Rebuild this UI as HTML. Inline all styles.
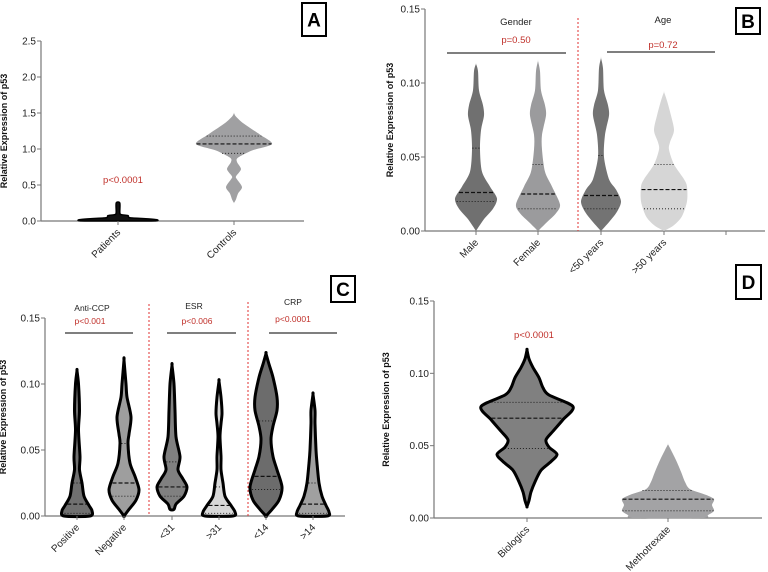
<!DOCTYPE html>
<html><head><meta charset="utf-8"><style>
html,body{margin:0;padding:0;background:#fff;}
svg{display:block;font-family:"Liberation Sans",Arial,sans-serif;}
</style></head><body>
<svg id="fig" width="768" height="572" viewBox="0 0 768 572" xmlns="http://www.w3.org/2000/svg"></svg>
<script>
// ---------- DATA ----------
// Panel A
const catsA = ["Patients","Controls"];
const ticksA = [0,0.5,1.0,1.5,2.0,2.5];
const tickLabelsA = ["0.0","0.5","1.0","1.5","2.0","2.5"];
const profPatients = [[0.25,1.8],[0.12,1.8],[0.09,3],[0.075,10],[0.045,12],[0.03,30],[0.018,39],[0.004,39],[0,30]];
const profControls = [[1.5,0],[1.45,2],[1.35,10],[1.2,26],[1.07,38],[0.98,18],[0.88,4],[0.82,3],[0.72,7],[0.62,2],[0.58,3],[0.47,8],[0.38,4],[0.3,2],[0.25,0]];
const quartA = [[0.005,0.015,0.05],[0.94,1.07,1.18]];
// Panel B
const catsB = ["Male","Female","<50 years",">50 years"];
const ticksB = [0,0.05,0.10,0.15];
const tickLabelsB = ["0.00","0.05","0.10","0.15"];
const profB = [
 [[0.113,0],[0.108,2],[0.095,3],[0.085,7],[0.078,8],[0.068,5],[0.055,4],[0.04,6],[0.03,14],[0.022,21],[0.015,17],[0.008,8],[0,0]],
 [[0.115,0],[0.108,2],[0.095,3],[0.085,7],[0.078,8],[0.065,4],[0.055,4],[0.04,7],[0.03,14],[0.018,22],[0.012,18],[0.006,9],[0,0]],
 [[0.117,0],[0.11,2],[0.095,3],[0.085,7],[0.078,8],[0.065,4],[0.05,3],[0.035,8],[0.028,15],[0.02,20],[0.013,16],[0.006,8],[0,0]],
 [[0.094,0],[0.088,3],[0.078,7],[0.068,10],[0.06,6],[0.055,5],[0.045,10],[0.035,20],[0.03,23],[0.02,23],[0.01,18],[0.004,10],[0,0]]
];
const quartB = [[0.02,0.026,0.056],[0.015,0.025,0.045],[0.015,0.024,0.051],[0.015,0.028,0.045]];
// Panel C
const catsC = ["Positive","Negative","<31",">31","<14",">14"];
const ticksC = [0,0.05,0.10,0.15];
const tickLabelsC = ["0.00","0.05","0.10","0.15"];
const profC = [
 [[0.11,0],[0.1,1.5],[0.08,2.5],[0.065,1.5],[0.045,3],[0.035,2.5],[0.025,5],[0.015,7],[0.008,12],[0.004,15],[0,13]],
 [[0.118,0],[0.1,2],[0.09,3],[0.075,7],[0.062,5],[0.055,4],[0.04,6],[0.03,11],[0.02,15],[0.012,12],[0.005,5],[0,0]],
 [[0.114,0],[0.1,2],[0.08,3],[0.06,4],[0.045,8],[0.035,6],[0.028,11],[0.022,15],[0.015,12],[0.009,4],[0.005,2]],
 [[0.102,0],[0.09,2],[0.078,3],[0.07,2],[0.06,1],[0.045,2],[0.035,2],[0.025,4],[0.015,6],[0.008,12],[0.003,16],[0,14]],
 [[0.123,0],[0.115,3],[0.105,7],[0.09,11],[0.08,11],[0.068,7],[0.058,5],[0.045,7],[0.035,11],[0.022,16],[0.012,13],[0.005,6],[0,0]],
 [[0.092,0],[0.08,2],[0.07,2],[0.05,3],[0.04,4],[0.025,6],[0.015,9],[0.008,13],[0.003,16],[0,14]]
];
const quartC = [[0.002,0.009,0.025],[0.015,0.025,0.055],[0.015,0.022,0.041],[0.002,0.008,0.022],[0.02,0.03,0.072],[0.002,0.009,0.025]];
// Panel D
const catsD = ["Biologics","Methotrexate"];
const ticksD = [0,0.05,0.10,0.15];
const tickLabelsD = ["0.00","0.05","0.10","0.15"];
const profD = [
 [[0.116,0],[0.11,2],[0.104,6],[0.097,12],[0.09,16],[0.085,22],[0.077,46],[0.068,36],[0.06,26],[0.054,19],[0.049,22],[0.044,30],[0.039,24],[0.033,14],[0.025,8],[0.018,4],[0.012,2],[0.008,0]],
 [[0.051,0],[0.047,3],[0.04,8],[0.032,13],[0.025,17],[0.02,22],[0.016,38],[0.013,46],[0.009,44],[0.005,46],[0.002,40],[0,34]]
];
const quartD = [[0.048,0.069,0.08],[0.005,0.013,0.019]];

// ---------- HELPERS ----------
const NS="http://www.w3.org/2000/svg";
const fig=document.getElementById('fig');
function mk(tag,attrs,parent,txt){const e=document.createElementNS(NS,tag);for(const k in attrs)e.setAttribute(k,attrs[k]);if(txt!==undefined)e.textContent=txt;(parent||fig).appendChild(e);return e;}
function linScale(d0,d1,r0,r1){return v=>r0+(v-d0)/(d1-d0)*(r1-r0);}
function widthAt(prof,v){
  const p=prof.slice().sort((a,b)=>b[0]-a[0]);
  if(v>=p[0][0])return p[0][1]; if(v<=p[p.length-1][0])return p[p.length-1][1];
  for(let i=0;i<p.length-1;i++){if(v<=p[i][0]&&v>=p[i+1][0]){const t=(p[i][0]-v)/(p[i][0]-p[i+1][0]);return p[i][1]+t*(p[i+1][1]-p[i][1]);}}
  return 0;
}
function smoothPath(pts){
  const n=pts.length;let d=`M${pts[0][0].toFixed(2)},${pts[0][1].toFixed(2)}`;
  const k=7;
  for(let i=0;i<n;i++){
    const p0=pts[(i-1+n)%n],p1=pts[i],p2=pts[(i+1)%n],p3=pts[(i+2)%n];
    const c1=[p1[0]+(p2[0]-p0[0])/k,p1[1]+(p2[1]-p0[1])/k];
    const c2=[p2[0]-(p3[0]-p1[0])/k,p2[1]-(p3[1]-p1[1])/k];
    d+=`C${c1[0].toFixed(2)},${c1[1].toFixed(2)} ${c2[0].toFixed(2)},${c2[1].toFixed(2)} ${p2[0].toFixed(2)},${p2[1].toFixed(2)}`;
  }
  return d+"Z";
}
function violin(g,cx,y,prof,fill,stroke,sw,q,name){
  const right=prof.map(([v,w])=>[cx+w,y(v)]);
  const left=prof.slice().reverse().map(([v,w])=>[cx-w,y(v)]);
  const pts=right.concat(left);
  const p=mk('path',{d:smoothPath(pts),fill:fill,stroke:stroke||'none','stroke-width':sw||0,'stroke-linejoin':'round'},g);
  
  
  if(q){q.forEach((v,i)=>{const w=widthAt(prof,v)-(sw?1.5:0.5);if(w<=0.5)return;
    const l=mk('line',{x1:cx-w,x2:cx+w,y1:y(v),y2:y(v),stroke:'#111','stroke-width':i===1?1.2:0.9,'stroke-dasharray':i===1?'4,2':'1,2'},g);
    
    });}
}
function axes(g,x0,x1,yTop,yBot,ticks,labels,y,title,titleX){
  mk('line',{x1:x0,x2:x0,y1:yTop,y2:yBot,stroke:'#777','stroke-width':1.2},g);
  mk('line',{x1:x0,x2:x1,y1:yBot,y2:yBot,stroke:'#777','stroke-width':1.2},g);
  ticks.forEach((t,i)=>{const yy=y(t);
    mk('line',{x1:x0-4,x2:x0,y1:yy,y2:yy,stroke:'#777','stroke-width':1},g);
    const tx=mk('text',{x:x0-5,y:yy+3.5,'font-size':10,'text-anchor':'end',fill:'#222'},g,labels[i]);
    
    });
  const cy=(yTop+yBot)/2;
  const tt=mk('text',{x:titleX,y:cy,'font-size':9,'font-weight':'bold','text-anchor':'middle',fill:'#111',transform:`rotate(-90 ${titleX} ${cy})`},g,title);
  
  
}
function xlabels(g,cats,xs,yBot){
  cats.forEach((c,i)=>{const x=xs[i];
    mk('line',{x1:x,x2:x,y1:yBot,y2:yBot+4,stroke:'#777','stroke-width':1},g);
    const t=mk('text',{x:x+3,y:yBot+12,'font-size':10,'text-anchor':'end',fill:'#222',transform:`rotate(-45 ${x+3} ${yBot+12})`},g,c);
    
    });
}
function box(g,x,y,w,h,letter){
  mk('rect',{x:x,y:y,width:w,height:h,fill:'#fff',stroke:'#000','stroke-width':2},g);
  const t=mk('text',{x:x+w/2,y:y+h/2+7,'font-size':19,'font-weight':'bold','text-anchor':'middle'},g,letter);
  
  
}
function txt(g,x,y,s,fill,size,name){const t=mk('text',{x:x,y:y,'font-size':size||9,'text-anchor':'middle',fill:fill},g,s);return t;}
function hline(g,x1,x2,y,name){const l=mk('line',{x1:x1,x2:x2,y1:y,y2:y,stroke:'#333','stroke-width':1.3},g);}
function vdash(g,x,y1,y2){const l=mk('line',{x1:x,x2:x,y1:y1,y2:y2,stroke:'#e03030','stroke-width':1,'stroke-dasharray':'2,2'},g);}
function group(name){const g=mk('g',{});return g;}

// ---------- PANEL A ----------
(function(){
  const g=group('panel-a');
  const y=linScale(0,2.5,221,41);
  axes(g,41,304,41,221,ticksA,tickLabelsA,y,'Relative Expression of p53',7);
  const xs=[118,234];
  violin(g,xs[1],y,profControls,'#a0a0a2',null,0,quartA[1],'violin-controls');
  violin(g,xs[0],y,profPatients,'#111','#000',1.5,null,'violin-patients');
  xlabels(g,catsA,xs,221);
  txt(g,123,183,'p<0.0001','#c0302a',9.5,'p-value-a');
  box(g,302,3,24,33,'A');
})();
// ---------- PANEL B ----------
(function(){
  const g=group('panel-b');
  const y=linScale(0,0.15,231,9);
  axes(g,425,765,9,231,ticksB,tickLabelsB,y,'Relative Expression of p53',393);
  const xs=[476,538,601,664];
  const fills=['#707070','#9b9b9d','#737373','#d6d6d6'];
  catsB.forEach((c,i)=>violin(g,xs[i],y,profB[i],fills[i],null,0,quartB[i],'violin-'+i));
  xlabels(g,catsB,xs,231);
  mk('line',{x1:726,x2:726,y1:231,y2:235,stroke:'#777'},g);
  vdash(g,578,18,231);
  txt(g,516,25,'Gender','#222',9.5,'group-title');
  txt(g,516,43,'p=0.50','#c0302a',9.5,'p-value');
  hline(g,447,566,53,'comparison-bar');
  txt(g,663,23,'Age','#222',9.5,'group-title');
  txt(g,663,48,'p=0.72','#c0302a',9.5,'p-value');
  hline(g,607,715,52,'comparison-bar');
  box(g,736,8,24,26,'B');
})();
// ---------- PANEL C ----------
(function(){
  const g=group('panel-c');
  const y=linScale(0,0.15,516,318);
  axes(g,45,345,318,516,ticksC,tickLabelsC,y,'Relative Expression of p53',6);
  const xs=[77,124,172,219,266,313];
  const fills=['#707070','#9e9e9e','#808080','#d8d8d8','#6c6c6c','#a0a0a0'];
  catsC.forEach((c,i)=>violin(g,xs[i],y,profC[i],fills[i],'#000',3,quartC[i],'violin-'+i));
  xlabels(g,catsC,xs,516);
  vdash(g,149,304,516); vdash(g,248,302,516);
  txt(g,92,311,'Anti-CCP','#222',8.5,'group-title');
  txt(g,90,324,'p<0.001','#c0302a',8.5,'p-value');
  hline(g,65,133,333,'comparison-bar');
  txt(g,194,309,'ESR','#222',8.5,'group-title');
  txt(g,197,324,'p<0.006','#c0302a',8.5,'p-value');
  hline(g,167,236,333,'comparison-bar');
  txt(g,293,305,'CRP','#222',8.5,'group-title');
  txt(g,293,322,'p<0.0001','#c0302a',8.5,'p-value');
  hline(g,269,337,333,'comparison-bar');
  box(g,331,276,24,26,'C');
})();
// ---------- PANEL D ----------
(function(){
  const g=group('panel-d');
  const y=linScale(0,0.15,518,301);
  axes(g,434,762,301,518,ticksD,tickLabelsD,y,'Relative Expression of p53',389);
  const xs=[527,668];
  violin(g,xs[0],y,profD[0],'#808080','#000',3,quartD[0],'violin-biologics');
  violin(g,xs[1],y,profD[1],'#a3a3a5',null,0,quartD[1],'violin-methotrexate');
  xlabels(g,catsD,xs,518);
  txt(g,534,338,'p<0.0001','#c0302a',9.5,'p-value-d');
  box(g,736,265,25,34,'D');
})();
</script>
</body></html>
